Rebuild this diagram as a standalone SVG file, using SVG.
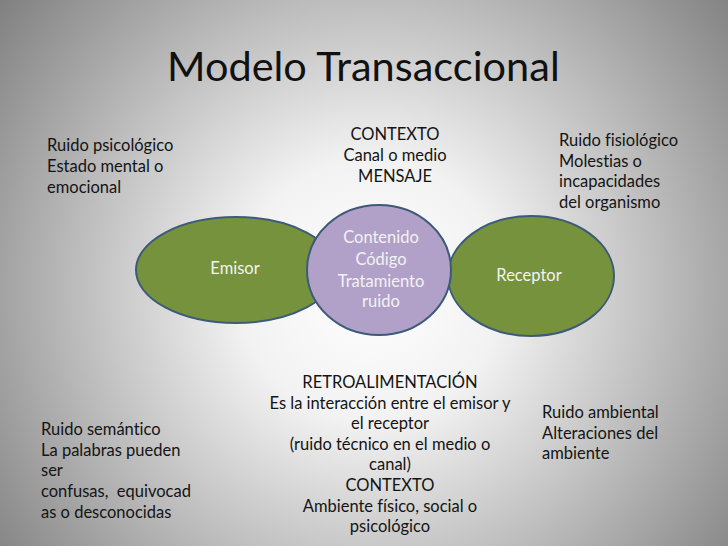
<svg xmlns="http://www.w3.org/2000/svg" width="728" height="546" viewBox="0 0 728 546">
<defs>
<radialGradient id="bg" cx="370" cy="290" r="470" gradientUnits="userSpaceOnUse">
<stop offset="0" stop-color="#ffffff"/>
<stop offset="0.28" stop-color="#f2f2f2"/>
<stop offset="0.62" stop-color="#bdbdbd"/>
<stop offset="1" stop-color="#808080"/>
</radialGradient>
<style>
text{font-variant-ligatures:none}
.t{font-family:Lato,"Open Sans","Liberation Sans",sans-serif;font-size:16.5px;fill:#141414}
.c{text-anchor:middle}
.w{font-family:Lato,"Open Sans","Liberation Sans",sans-serif;font-size:16.5px;fill:#f2f2f2;text-anchor:middle}
.g{fill:#76923c;stroke:#3d5a7a;stroke-width:2}
.p{fill:#b1a1c8;stroke:#3d5a7a;stroke-width:2}
.title{font-family:Lato,"Open Sans","Liberation Sans",sans-serif;font-size:41.5px;fill:#111}
</style>
</defs>
<rect width="728" height="546" fill="url(#bg)"/>
<text class="title" x="167" y="81">Modelo Transaccional</text>

<g id="connectors"></g>

<g id="emisor">
<ellipse class="g" cx="236" cy="270" rx="100" ry="53"/>
<text class="w" x="235" y="274">Emisor</text>
</g>
<g id="receptor">
<ellipse class="g" cx="531" cy="276" rx="83" ry="60"/>
<text class="w" x="529" y="281">Receptor</text>
</g>
<g id="mensaje">
<ellipse class="p" cx="379" cy="270" rx="72" ry="65"/>
<text class="w" x="381" y="243">Contenido</text>
<text class="w" x="381" y="265">Código</text>
<text class="w" x="381" y="286.5">Tratamiento</text>
<text class="w" x="381" y="307">ruido</text>
</g>

<g id="ruido-psicologico">
<text class="t" x="47" y="151">Ruido psicológico</text>
<text class="t" x="47" y="172">Estado mental o</text>
<text class="t" x="47" y="193">emocional</text>
</g>
<g id="contexto-canal">
<text class="t c" x="395" y="140">CONTEXTO</text>
<text class="t c" x="395" y="161">Canal o medio</text>
<text class="t c" x="395" y="182">MENSAJE</text>
</g>
<g id="ruido-fisiologico">
<text class="t" x="559" y="146">Ruido fisiológico</text>
<text class="t" x="559" y="166.5">Molestias o</text>
<text class="t" x="559" y="187">incapacidades</text>
<text class="t" x="559" y="207.5">del organismo</text>
</g>
<g id="retroalimentacion">
<text class="t c" x="390" y="388">RETROALIMENTACIÓN</text>
<text class="t c" x="390" y="408.5">Es la interacción entre el emisor y</text>
<text class="t c" x="390" y="429">el receptor</text>
<text class="t c" x="390" y="449.5">(ruido técnico en el medio o</text>
<text class="t c" x="390" y="470">canal)</text>
<text class="t c" x="390" y="490.5">CONTEXTO</text>
<text class="t c" x="390" y="511.5">Ambiente físico, social o</text>
<text class="t c" x="390" y="532">psicológico</text>
</g>
<g id="ruido-semantico">
<text class="t" x="41" y="435">Ruido semántico</text>
<text class="t" x="41" y="455.5">La palabras pueden</text>
<text class="t" x="41" y="476">ser</text>
<text class="t" x="41" y="497" xml:space="preserve">confusas,  equivocad</text>
<text class="t" x="41" y="518">as o desconocidas</text>
</g>
<g id="ruido-ambiental">
<text class="t" x="542" y="418">Ruido ambiental</text>
<text class="t" x="542" y="438.5">Alteraciones del</text>
<text class="t" x="542" y="459">ambiente</text>
</g>
</svg>
